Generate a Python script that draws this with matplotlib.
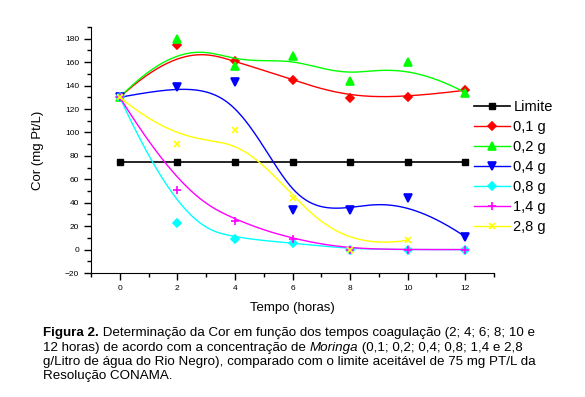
import numpy as np
import matplotlib
matplotlib.use('Agg')
import matplotlib.pyplot as plt
from matplotlib.ticker import MultipleLocator

plt.rcParams['font.family'] = ['Liberation Sans', 'DejaVu Sans']

# Dados (cor em mg Pt/L)
tempo = [0, 2, 4, 6, 8, 10, 12]
limite = [75, 75, 75, 75, 75, 75, 75]
cor_01 = [130, 175, 161, 145, 129, 130, 136]
cor_02 = [130, 180, 157, 165, 144, 160, 134]
cor_04 = [130, 139, 143, 34, 34, 44, 11]
cor_08 = [130, 23, 9, 6, 0, 0, 0]
cor_14 = [130, 51, 24, 9, 0, 0, 0]
tempo_28 = [0, 2, 4, 6, 8, 10]
cor_28 = [130, 90, 102, 44, 0, 8]


def bspline(xs, ys, k=3, num=300):
    # B-spline cubica "clamped" (como o Origin), pontos como controle
    P = np.column_stack([xs, ys]).astype(float)
    n = len(P)
    k = min(k, n - 1)
    nos = np.concatenate([np.zeros(k), np.arange(n - k + 1), np.full(k, n - k)])
    t = np.linspace(0, n - k, num)
    t[-1] -= 1e-9
    m = len(nos)
    B = np.array([((nos[i] <= t) & (t < nos[i + 1])).astype(float) for i in range(m - 1)])
    for p in range(1, k + 1):
        Bn = np.zeros((m - 1 - p, len(t)))
        for i in range(m - 1 - p):
            d1 = nos[i + p] - nos[i]
            d2 = nos[i + p + 1] - nos[i + 1]
            a = (t - nos[i]) / d1 * B[i] if d1 > 0 else 0
            b = (nos[i + p + 1] - t) / d2 * B[i + 1] if d2 > 0 else 0
            Bn[i] = a + b
        B = Bn
    c = B.T @ P
    return c[:, 0], c[:, 1]


fig = plt.figure(figsize=(5.85, 3.97), dpi=100)
ax = fig.add_axes([91/585, 1 - 273/397, (494 - 91)/585, (273 - 27)/397])

ax.plot(tempo, limite, color='black', lw=1.2, marker='s', ms=4.5, label='Limite')

series = [
    (tempo, cor_01, '#ff0000', 'D', 4.5, '0,1 g'),
    (tempo, cor_02, '#00ff00', '^', 6, '0,2 g'),
    (tempo, cor_04, '#0000ff', 'v', 6, '0,4 g'),
    (tempo, cor_08, '#00ffff', 'D', 4.5, '0,8 g'),
    (tempo, cor_14, '#ff00ff', '+', 6, '1,4 g'),
    (tempo_28, cor_28, '#ffff00', 'x', 5, '2,8 g'),
]
for x, y, c, mk, ms, lab in series:
    bx, by = bspline(x, y)
    ax.plot(bx, by, color=c, lw=1)
    ax.plot(x, y, ls='none', marker=mk, ms=ms, color=c, mew=1.2)
    ax.plot([], [], color=c, lw=1, marker=mk, ms=ms, mew=1.2, label=lab)

ax.set_xlim(-1, 13)
ax.set_ylim(-20, 190)
ax.xaxis.set_major_locator(MultipleLocator(2))
ax.xaxis.set_minor_locator(MultipleLocator(1))
ax.yaxis.set_major_locator(MultipleLocator(20))
ax.yaxis.set_minor_locator(MultipleLocator(10))
ax.set_yticks(range(-20, 181, 20))
ax.spines['top'].set_visible(False)
ax.spines['right'].set_visible(False)
ax.tick_params(which='major', direction='out', length=5, width=1, labelsize=6)
ax.tick_params(which='minor', direction='out', length=3, width=1)

ax.set_xlabel('Tempo (horas)', fontsize=9.5, labelpad=7)
ax.set_ylabel('Cor (mg Pt/L)', fontsize=9.5, labelpad=15)

fig.legend(loc='center left', bbox_to_anchor=(474/585, 1 - 167/397),
           frameon=False, fontsize=10.5, handlelength=2.5, handletextpad=0.2,
           labelspacing=0.42, borderpad=0, borderaxespad=0)

# Legenda da figura (texto com negrito/italico)
r = fig.canvas.get_renderer()


def texto_misto(x, y, partes):
    for s, estilo in partes:
        t = fig.text(x, y, s, fontsize=9.6, va='baseline', **estilo)
        bb = t.get_window_extent(r)
        x = fig.transFigure.inverted().transform((bb.x1, 0))[0]


x0 = 43/585
texto_misto(x0, 1 - 336/397, [('Figura 2.', {'fontweight': 'bold'}),
                              (' Determinação da Cor em função dos tempos coagulação (2; 4; 6; 8; 10 e', {})])
texto_misto(x0, 1 - 350.5/397, [('12 horas) de acordo com a concentração de ', {}),
                                ('Moringa', {'style': 'italic'}),
                                (' (0,1; 0,2; 0,4; 0,8; 1,4 e 2,8', {})])
texto_misto(x0, 1 - 365/397, [('g/Litro de água do Rio Negro), comparado com o limite aceitável de 75 mg PT/L da', {})])
texto_misto(x0, 1 - 379.5/397, [('Resolução CONAMA.', {})])

fig.savefig('out.png', dpi=100)
